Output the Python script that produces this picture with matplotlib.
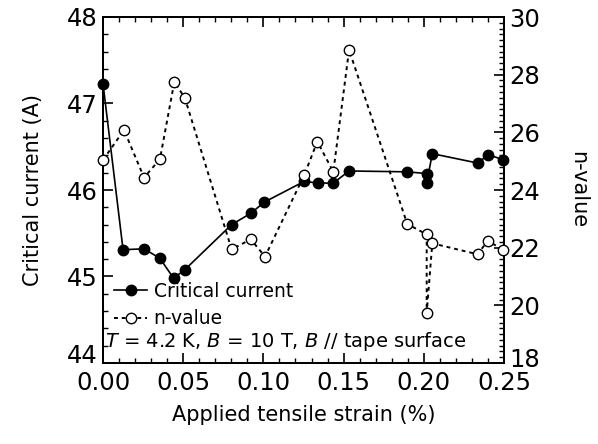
import matplotlib
matplotlib.use("Agg")
import matplotlib.pyplot as plt
from matplotlib.lines import Line2D
from matplotlib.ticker import MultipleLocator, FormatStrFormatter
from matplotlib.transforms import ScaledTranslation

plt.rcParams['font.family'] = ['DejaVu Sans']
plt.rcParams['mathtext.fontset'] = 'dejavusans'

# Critical current vs. applied tensile strain
strain_ic = [0.0, 0.0125, 0.0256, 0.0355, 0.0440, 0.0511, 0.0802, 0.0921, 0.1006,
             0.1255, 0.1339, 0.1436, 0.1534, 0.1897, 0.2018, 0.2018, 0.2053,
             0.2340, 0.2398, 0.2496]
ic_values = [47.23, 45.31, 45.32, 45.21, 44.98, 45.08, 45.60, 45.73, 45.86,
             46.10, 46.08, 46.08, 46.22, 46.21, 46.19, 46.08, 46.42,
             46.31, 46.41, 46.35]

# n-value vs. applied tensile strain
strain_n = [0.0, 0.0131, 0.0256, 0.0355, 0.0445, 0.0511, 0.0802, 0.0921, 0.1010,
            0.1255, 0.1336, 0.1436, 0.1534, 0.1897, 0.2018, 0.2018, 0.2053,
            0.2336, 0.2398, 0.2496]
n_values = [25.04, 26.08, 24.43, 25.07, 27.76, 27.18, 21.94, 22.29, 21.69,
            24.52, 25.68, 24.63, 28.86, 22.82, 22.46, 19.74, 22.15,
            21.77, 22.24, 21.92]

x_ticks = [0.00, 0.05, 0.10, 0.15, 0.20, 0.25]
ic_ticks = [44, 45, 46, 47, 48]
n_ticks = [18, 20, 22, 24, 26, 28, 30]

fig = plt.figure(figsize=(5.98, 4.44), dpi=100)
ax = fig.add_axes([103 / 598, 1 - 363 / 444, 401 / 598, 346 / 444])
ax2 = ax.twinx()

line_ic, = ax.plot(strain_ic, ic_values, '-', color='black', lw=1.2,
                   marker='o', ms=7.5, mfc='black', mec='black', zorder=3,
                   clip_on=False)
line_n, = ax2.plot(strain_n, n_values, linestyle=(0, (2.0, 2.0)), color='black',
                   lw=1.4, marker='o', ms=7.5, mfc='white', mec='black',
                   mew=1.0, zorder=3, clip_on=False)

ax.set_xlim(0, 0.25)
ax.set_ylim(44, 48)
ax2.set_ylim(18, 30)

ax.set_xticks(x_ticks)
ax.xaxis.set_major_formatter(FormatStrFormatter('%.2f'))
ax.xaxis.set_minor_locator(MultipleLocator(0.01))
ax.set_yticks(ic_ticks)
ax.yaxis.set_minor_locator(MultipleLocator(0.2))
ax2.set_yticks(n_ticks)
ax2.yaxis.set_minor_locator(MultipleLocator(0.2))

ax.tick_params(axis='x', which='both', direction='in', top=True, bottom=True,
               labelsize=17.5, pad=6)
ax.tick_params(axis='y', which='both', direction='in', left=True, right=False,
               labelsize=17.5, pad=4)
ax2.tick_params(axis='y', which='both', direction='in', right=True, left=False,
                labelsize=17.5, pad=4)
for a in (ax, ax2):
    a.tick_params(which='major', length=7, width=1.2)
    a.tick_params(which='minor', length=3.5, width=1.0)
    for s in a.spines.values():
        s.set_linewidth(1.4)

ax.set_xlabel('Applied tensile strain (%)', fontsize=15, labelpad=7)
ax.set_ylabel('Critical current (A)', fontsize=15, labelpad=17)
ax2.set_ylabel('n-value', fontsize=15, rotation=270, labelpad=34)

leg_ic = Line2D([], [], color='black', lw=1.2, marker='o', ms=7.5, mfc='black')
leg_n = Line2D([], [], color='black', lw=1.4, linestyle=(0, (2.0, 2.0)),
               marker='o', ms=7.5, mfc='white', mec='black')
ax2.legend([leg_ic, leg_n], ['Critical current', 'n-value'],
           loc='lower left', bbox_to_anchor=(0.028, 0.1), frameon=False,
           fontsize=13.5, handlelength=1.75, handletextpad=0.35,
           labelspacing=0.45, borderaxespad=0.0, borderpad=0.0)
ax2.text(0.006, 0.062, r'$T$ = 4.2 K, $B$ = 10 T, $B$ // tape surface',
         transform=ax.transAxes, fontsize=14, ha='left', va='center')

# lift the lowest y labels a little so they clear the corner x labels
fig.canvas.draw()
for tick, dy in ((ax.yaxis.get_major_ticks()[0], 7),
                 (ax2.yaxis.get_major_ticks()[0], 4)):
    lift = ScaledTranslation(0, dy / 72, fig.dpi_scale_trans)
    for lab in (tick.label1, tick.label2):
        lab.set_transform(lab.get_transform() + lift)

fig.savefig('out.png', dpi=100)
